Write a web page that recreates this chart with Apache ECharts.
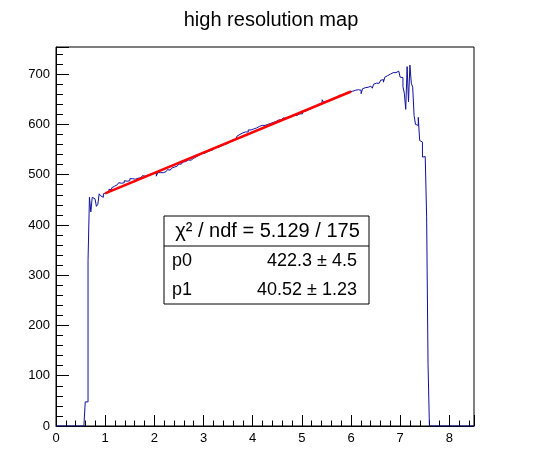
<!DOCTYPE html>
<html>
<head>
<meta charset="utf-8">
<script src="https://cdn.jsdelivr.net/npm/echarts@6/dist/echarts.min.js"></script>
<style>
    html, body { margin: 0; padding: 0; background: #fff; }
    #hist_map { width: 558px; height: 474px; }
</style>
</head>
<body>
<div id="hist_map"></div>
<script>

// Histogram: 300 bins between 0 and 8.5
var xMin = 0,
    xMax = 8.5,
    nBins = 300;

// Bin contents
var binCounts = [
    0, 0, 0, 0, 0, 0, 0, 0, 0, 0,
    0, 0, 0, 0, 0, 0, 0, 0, 0, 0,
    0, 48, 48, 329,
    455, 426, 455, 452, 450, 437, 441, 462, 458, 455, 462,
    464, 467, 467, 471, 470, 474, 477, 477, 480, 480,
    484, 483, 485, 484, 488, 487, 490, 488, 492, 492,
    492, 491, 493, 493, 495, 494, 496, 498, 497, 499,
    499, 499, 501, 500, 502, 501, 503, 497, 504, 504,
    504, 504, 506, 506, 508, 510, 509, 511, 513, 515,
    515, 517, 519, 521, 521, 523, 525, 526, 526, 529,
    529, 529, 532, 533, 536, 536, 536, 539, 539, 542,
    543, 543, 546, 546, 546, 548, 551, 550, 552, 554,
    554, 554, 556, 559, 559, 559, 561, 563, 563, 565,
    567, 569, 571, 571, 574, 577, 580, 580, 583, 583,
    585, 585, 585, 589, 589, 591, 591, 591, 593, 595,
    596, 596, 598, 598, 598, 600, 600, 602, 602, 602,
    604, 604, 606, 607, 609, 609, 609, 611, 613, 612,
    615, 615, 615, 615, 615, 618, 618, 618, 621, 621,
    623, 621, 625, 626, 624, 629, 629, 631, 630, 634,
    635, 637, 637, 640, 640, 643, 649, 645, 646, 648,
    648, 648, 650, 652, 653, 654, 654, 656, 658, 658,
    660, 660, 662, 662, 664, 665, 665,
    666, 667, 668, 667, 669, 670, 668, 661, 671, 673,
    674, 674, 677, 676, 678, 672, 680, 682, 683, 682,
    685, 688, 689, 684, 694, 697, 699, 700, 702, 703,
    704, 703, 705,
    706, 708, 694, 693, 675, 662, 630, 715, 645, 718,
    682, 674, 618, 600, 598, 614, 568, 565, 535, 536,
    536, 416, 125,
    0, 0, 0, 0, 0, 0, 0, 0, 0, 0,
    0, 0, 0, 0, 0, 0, 0, 0, 0, 0,
    0, 0, 0, 0, 0, 0, 0, 0, 0, 0,
    0, 0
];

// Linear fit pol1 over [1, 6]
var fitRange = [1, 6],
    fitParams = [422.3, 40.52];

// Stats box texts
var statsTitle = '\u03c7\u00b2 / ndf = 5.129 / 175',
    statsNames = ['p0', 'p1'],
    statsValues = ['422.3 \u00b1 4.5', '40.52 \u00b1 1.23'];

var HistMapChart = function() {

    var _histMap = function() {
        if (typeof echarts == 'undefined') {
            console.warn('Warning - echarts.min.js is not loaded.');
            return;
        }

        var hist_element = document.getElementById('hist_map');
        if (!hist_element) {
            return;
        }

        var hist_chart = echarts.init(hist_element, null, { renderer: 'canvas' });

        // Step outline of the histogram
        var binWidth = (xMax - xMin) / nBins;
        var stepData = [];
        binCounts.forEach(function (c, i) {
            stepData.push([xMin + i * binWidth, c]);
            stepData.push([xMin + (i + 1) * binWidth, c]);
        });

        // Fit function endpoints
        var fitData = fitRange.map(function (x) {
            return [x, fitParams[0] + fitParams[1] * x];
        });

        var font = '"Liberation Sans", Arial, sans-serif';

        // Stats box
        var boxLeft = 164, boxTop = 216, boxW = 205, boxH = 88;
        var statsGraphic = [
            {
                type: 'rect',
                shape: { x: boxLeft, y: boxTop, width: boxW, height: boxH },
                style: { fill: '#fff', stroke: '#000', lineWidth: 1 },
                z: 100
            },
            {
                type: 'line',
                shape: { x1: boxLeft, y1: boxTop + 30, x2: boxLeft + boxW, y2: boxTop + 30 },
                style: { stroke: '#000', lineWidth: 1 },
                z: 101
            },
            {
                type: 'text',
                x: boxLeft + boxW / 2 + 1, y: boxTop + 15,
                style: { text: statsTitle, font: '20px ' + font, fill: '#000', align: 'center', verticalAlign: 'middle' },
                z: 101
            }
        ];
        statsNames.forEach(function (name, i) {
            var rowY = boxTop + 45 + i * 29;
            statsGraphic.push({
                type: 'text',
                x: boxLeft + 8, y: rowY,
                style: { text: name, font: '18px ' + font, fill: '#000', align: 'left', verticalAlign: 'middle' },
                z: 101
            });
            statsGraphic.push({
                type: 'text',
                x: boxLeft + boxW - 12, y: rowY,
                style: { text: statsValues[i], font: '18px ' + font, fill: '#000', align: 'right', verticalAlign: 'middle' },
                z: 101
            });
        });

        hist_chart.setOption({
            animation: false,
            backgroundColor: '#fff',

            title: {
                text: 'high resolution map',
                left: 266,
                top: 5,
                textAlign: 'center',
                textStyle: {
                    fontFamily: font,
                    fontWeight: 'normal',
                    fontSize: 20,
                    color: '#000'
                }
            },

            grid: {
                show: true,
                left: 56,
                top: 47,
                width: 418,
                height: 379,
                borderColor: '#000',
                borderWidth: 1,
                backgroundColor: 'transparent'
            },

            xAxis: {
                type: 'value',
                min: xMin,
                max: xMax,
                interval: 1,
                axisLine: { show: true, lineStyle: { color: '#000', width: 1 } },
                axisTick: { show: true, inside: true, length: 11, lineStyle: { color: '#000' } },
                minorTick: { show: true, splitNumber: 5, length: 5.5, lineStyle: { color: '#000' } },
                splitLine: { show: false },
                axisLabel: {
                    color: '#000',
                    fontFamily: font,
                    fontSize: 13,
                    margin: 6,
                    showMaxLabel: false
                }
            },

            yAxis: {
                type: 'value',
                min: 0,
                max: 754,
                interval: 100,
                axisLine: { show: true, lineStyle: { color: '#000', width: 1 } },
                axisTick: { show: true, inside: true, length: 13, lineStyle: { color: '#000' } },
                minorTick: { show: true, splitNumber: 5, length: 7, lineStyle: { color: '#000' } },
                splitLine: { show: false },
                axisLabel: {
                    color: '#000',
                    fontFamily: font,
                    fontSize: 13,
                    margin: 6,
                    showMaxLabel: false
                }
            },

            graphic: statsGraphic,

            series: [
                {
                    name: 'histogram',
                    type: 'line',
                    data: stepData,
                    showSymbol: false,
                    symbol: 'none',
                    lineStyle: { color: '#10109c', width: 1 },
                    z: 2
                },
                {
                    name: 'fit',
                    type: 'line',
                    data: fitData,
                    showSymbol: false,
                    symbol: 'none',
                    lineStyle: { color: '#ff0000', width: 2.5 },
                    z: 3
                }
            ]
        });
    };

    return {
        init: function() {
            _histMap();
        }
    };
}();

document.addEventListener('DOMContentLoaded', function() {
    HistMapChart.init();
});
</script>
</body>
</html>
